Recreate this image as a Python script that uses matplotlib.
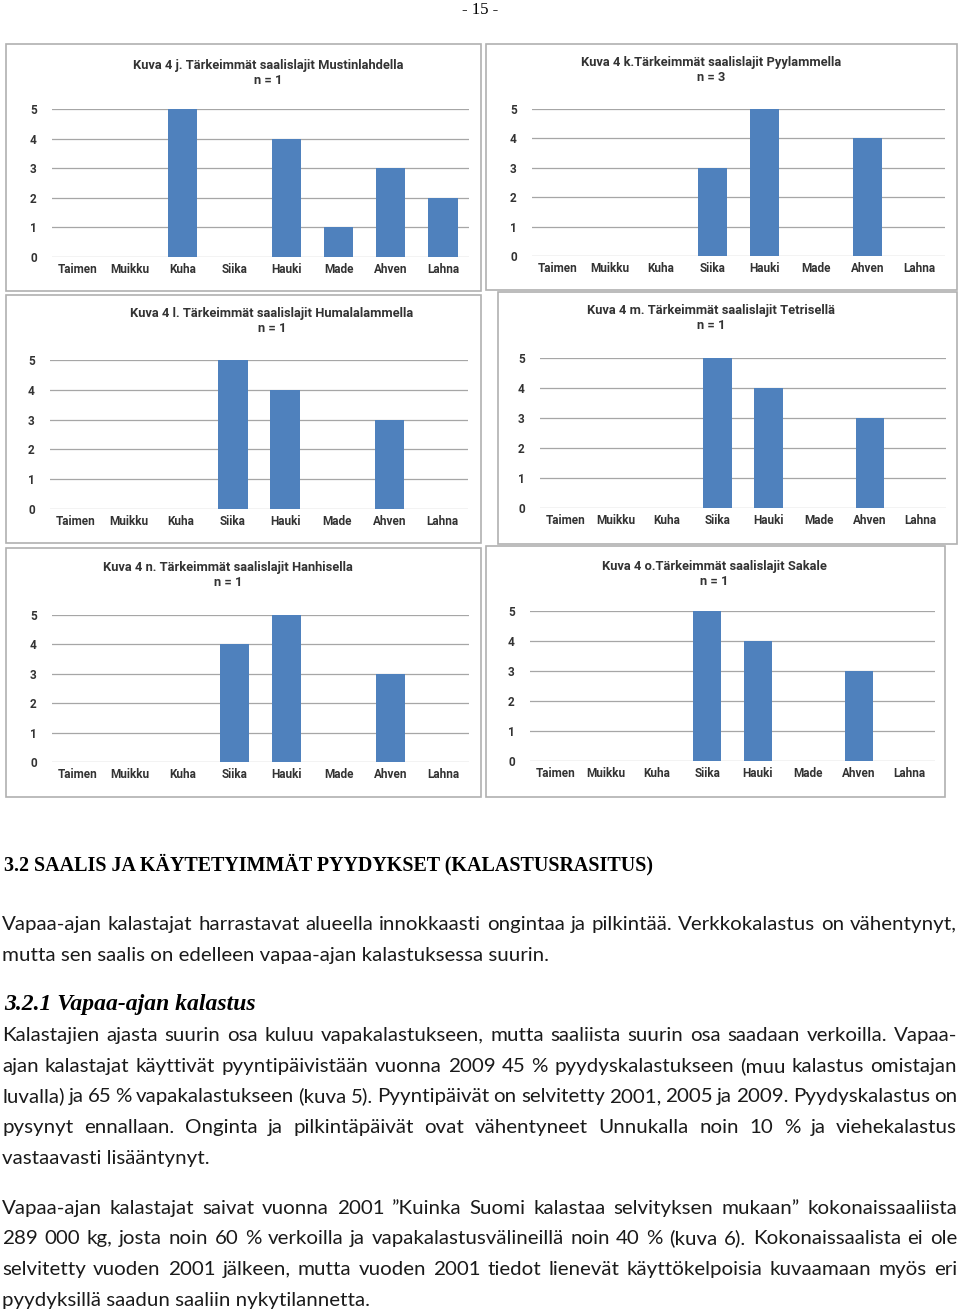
import matplotlib
matplotlib.use("Agg")
import matplotlib.pyplot as plt
from matplotlib.patches import Rectangle

W, H = 960, 1314

species = ["Taimen", "Muikku", "Kuha", "Siika", "Hauki", "Made", "Ahven", "Lahna"]

mustinlahti = [0, 0, 5, 0, 4, 1, 3, 2]
pyylampi = [0, 0, 0, 3, 5, 0, 4, 0]
humalalampi = [0, 0, 0, 5, 4, 0, 3, 0]
tetrinen = [0, 0, 0, 5, 4, 0, 3, 0]
hanhinen = [0, 0, 0, 4, 5, 0, 3, 0]
sakale = [0, 0, 0, 5, 4, 0, 3, 0]

titles = [
    "Kuva 4 j. Tärkeimmät saalislajit Mustinlahdella\nn = 1",
    "Kuva 4 k.Tärkeimmät saalislajit Pyylammella\nn = 3",
    "Kuva 4 l. Tärkeimmät saalislajit Humalalammella\nn = 1",
    "Kuva 4 m. Tärkeimmät saalislajit Tetrisellä\nn = 1",
    "Kuva 4 n. Tärkeimmät saalislajit Hanhisella\nn = 1",
    "Kuva 4 o.Tärkeimmät saalislajit Sakale\nn = 1",
]
series = [mustinlahti, pyylampi, humalalampi, tetrinen, hanhinen, sakale]

# layout in pixels: chart box, plot area (left, top, right, bottom), title centre
boxes = [(6, 44, 481, 291), (486, 44, 957, 290), (6, 295, 481, 543),
         (498, 292, 957, 544), (6, 548, 481, 797), (486, 546, 945, 797)]
plots = [(52, 109, 469, 257), (532, 109, 945, 256), (50, 360, 468, 509),
         (540, 358, 946, 508), (52, 615, 469, 762), (530, 611, 935, 761)]
tcent = [(268, 66), (711, 63), (272, 314), (711, 311), (228, 568), (714, 567)]

BLUE = "#4f81bd"
lab_font = ["Roboto", "DejaVu Sans"]

fig = plt.figure(figsize=(W / 100, H / 100), dpi=100)
fig.patch.set_facecolor("white")
renderer = fig.canvas.get_renderer()

def fx(px):
    return px / W

def fy(py):
    return 1 - py / H

def width_of(s, **kw):
    t = fig.text(0, 0, s, **kw)
    w = t.get_window_extent(renderer).width
    t.remove()
    return w

def fitted_size(s, target_px, **kw):
    w = width_of(s, fontsize=10, **kw)
    return 10 * target_px / w

tick_size = fitted_size("Taimen", 40, family=lab_font, fontweight="bold")
title_size = fitted_size(titles[0].split("\n")[0], 270, family=lab_font,
                         fontweight="bold")

for box, pl, tc, title, vals in zip(boxes, plots, tcent, titles, series):
    x0, y0, x1, y1 = box
    fig.patches.append(Rectangle((fx(x0), fy(y1)), fx(x1 - x0), (y1 - y0) / H,
                                 transform=fig.transFigure, fill=False,
                                 edgecolor="#b0b0b0", linewidth=1.2))
    l, t, r, b = pl
    ax = fig.add_axes([fx(l), fy(b), fx(r - l), (b - t) / H])
    ax.bar(range(len(species)), vals, width=0.56, color=BLUE, zorder=3)
    ax.set_xlim(-0.5, len(species) - 0.5)
    ax.set_ylim(0, 5)
    ax.set_yticks(range(6))
    ax.yaxis.grid(True, color="#a6a6a6", linewidth=0.9, zorder=0)
    ax.set_xticks(range(len(species)))
    ax.set_xticklabels(species, family=lab_font, fontweight="bold",
                       fontsize=tick_size, color="#333333")
    for lbl in ax.get_yticklabels():
        lbl.set_family(lab_font)
        lbl.set_fontweight("bold")
        lbl.set_fontsize(tick_size)
        lbl.set_color("#333333")
    ax.tick_params(axis="both", length=0)
    ax.tick_params(axis="y", pad=11)
    ax.tick_params(axis="x", pad=4)
    for s in ax.spines.values():
        s.set_visible(False)
    ax.set_facecolor("none")
    fig.text(fx(tc[0]), fy(tc[1] - 7), title, ha="center", va="top",
             family=lab_font, fontweight="bold", fontsize=title_size,
             color="#333333", linespacing=1.2)

# page number
fig.text(0.5, fy(10), "- 15 -", ha="center", va="center",
         family="Liberation Serif", fontsize=12)

heading = "3.2 SAALIS JA KÄYTETYIMMÄT PYYDYKSET (KALASTUSRASITUS)"
hsize = fitted_size(heading, 646, family="Liberation Serif", fontweight="bold")
fig.text(fx(4), fy(870), heading, ha="left", va="baseline",
         family="Liberation Serif", fontweight="bold", fontsize=hsize)

sub = "3.2.1 Vapaa-ajan kalastus"
ssize = fitted_size(sub, 252, family="Liberation Serif", fontweight="bold",
                    fontstyle="italic")
fig.text(fx(4), fy(1010), sub, ha="left", va="baseline",
         family="Liberation Serif", fontweight="bold", fontstyle="italic",
         fontsize=ssize)

body = [
    ("Vapaa-ajan kalastajat harrastavat alueella innokkaasti ongintaa ja pilkintää. Verkkokalastus on vähentynyt,", 924, True),
    ("mutta sen saalis on edelleen vapaa-ajan kalastuksessa suurin.", 955, False),
    ("Kalastajien ajasta suurin osa kuluu vapakalastukseen, mutta saaliista suurin osa saadaan verkoilla. Vapaa-", 1035, True),
    ("ajan kalastajat käyttivät pyyntipäivistään vuonna 2009 45 % pyydyskalastukseen (muu kalastus omistajan", 1066, True),
    ("luvalla)  ja 65 % vapakalastukseen (kuva 5). Pyyntipäivät on selvitetty 2001, 2005 ja 2009. Pyydyskalastus on", 1096, True),
    ("pysynyt ennallaan. Onginta ja pilkintäpäivät ovat vähentyneet Unnukalla noin 10 % ja viehekalastus", 1127, True),
    ("vastaavasti lisääntynyt.", 1158, False),
    ("Vapaa-ajan kalastajat saivat vuonna 2001 ”Kuinka Suomi kalastaa selvityksen mukaan” kokonaissaaliista", 1208, True),
    ("289 000 kg, josta noin 60 % verkoilla ja vapakalastusvälineillä noin 40 % (kuva 6). Kokonaissaalista ei ole", 1238, True),
    ("selvitetty vuoden 2001 jälkeen, mutta vuoden 2001 tiedot lienevät käyttökelpoisia kuvaamaan myös eri", 1269, True),
    ("pyydyksillä saadun saaliin nykytilannetta.", 1300, False),
]
bkw = dict(family=["Lato", "DejaVu Sans"], color="#1a1a1a")
bsize = fitted_size(body[1][0], 545, **bkw)
left_px, right_px = 2, 957
for line, ypx, justify in body:
    base = fy(ypx + 6)
    if not justify:
        fig.text(fx(left_px), base, line, ha="left", va="baseline",
                 fontsize=bsize, **bkw)
        continue
    words = line.split()
    widths = [width_of(w, fontsize=bsize, **bkw) for w in words]
    gap = (right_px - left_px - sum(widths)) / (len(words) - 1)
    x = left_px
    for w, wd in zip(words, widths):
        fig.text(fx(x), base, w, ha="left", va="baseline",
                 fontsize=bsize, **bkw)
        x += wd + gap

fig.savefig("out.png", dpi=100, facecolor="white")
